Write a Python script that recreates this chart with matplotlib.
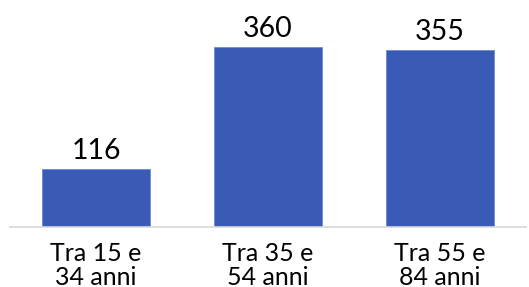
import matplotlib
matplotlib.use("Agg")
import matplotlib.pyplot as plt

categories = ["Tra 15 e\n34 anni", "Tra 35 e\n54 anni", "Tra 55 e\n84 anni"]
values = [116, 360, 355]

plt.rcParams["font.family"] = ["Lato", "DejaVu Sans"]

fig = plt.figure(figsize=(5.29, 2.87), dpi=100)
ax = fig.add_axes([10 / 529, 60.5 / 287, 516 / 529, 199.2 / 287])

x = range(len(values))
bars = ax.bar(x, values, width=0.63, color="#3A5BB5", edgecolor="#6F8AD0", linewidth=0.6)

# value labels above bars
for b, v in zip(bars, values):
    ax.annotate(str(v), (b.get_x() + b.get_width() / 2, v), xytext=(0, 3.5),
                textcoords="offset points", ha="center", va="bottom", fontsize=20.5)

ax.set_xlim(-0.5, 2.5)
ax.set_ylim(0, 400)
ax.set_xticks(list(x))
ax.set_xticklabels(categories, fontsize=18, linespacing=1.05)
ax.tick_params(axis="x", length=0, pad=11)
ax.set_yticks([])
for s in ["top", "left", "right"]:
    ax.spines[s].set_visible(False)
ax.spines["bottom"].set_color("#D9D9D9")
ax.spines["bottom"].set_linewidth(1.2)

fig.savefig("out.png", dpi=100)
